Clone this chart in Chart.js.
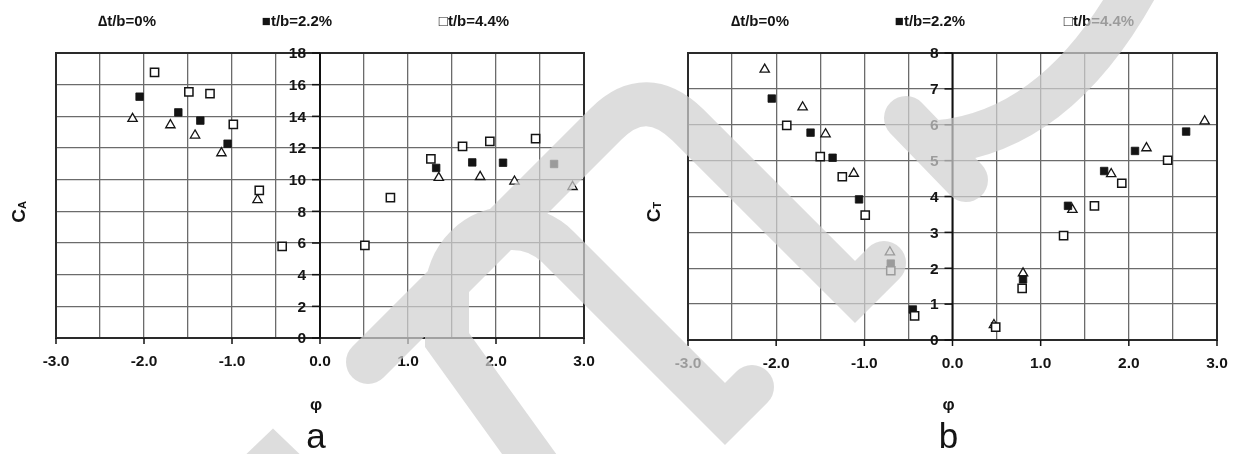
<!DOCTYPE html>
<html>
<head>
<meta charset="utf-8">
<script src="https://cdn.jsdelivr.net/npm/chart.js@4.4.1/dist/chart.umd.min.js"></script>
<style>
  html, body { margin: 0; padding: 0; background: #fff; }
  #wrap { position: relative; width: 1245px; height: 454px; overflow: hidden; background: #fff; }
  #wrap canvas { position: absolute; top: 0; }
  #ca { left: 0; }
  #cb { left: 620px; }
  #mark { left: 0; pointer-events: none; }
</style>
</head>
<body>
<div id="wrap">
  <canvas id="ca" width="620" height="454"></canvas>
  <canvas id="cb" width="625" height="454"></canvas>
  <canvas id="mark" width="1245" height="454"></canvas>
</div>
<script>
// ---- series names and legend glyphs ----
const seriesNames = ['t/b=0%', 't/b=2.2%', 't/b=4.4%'];
const legendGlyphs = ['\u2206', '\u25A0', '\u25A1'];

// ---- shared x axis ----
const xTickLabels = ['-3.0', '-2.0', '-1.0', '0.0', '1.0', '2.0', '3.0'];

// ---- panel a : C_A versus phi ----
const yTicksA = [0, 2, 4, 6, 8, 10, 12, 14, 16, 18];
const phiA_0 = [-2.13, -1.70, -1.42, -1.12, -0.71, 1.35, 1.82, 2.21, 2.87];
const cA_0   = [13.85, 13.45, 12.80, 11.68, 8.72, 10.12, 10.18, 9.89, 9.55];
const phiA_22 = [-2.05, -1.61, -1.36, -1.05, 1.32, 1.73, 2.08, 2.66];
const cA_22   = [15.24, 14.25, 13.73, 12.27, 10.74, 11.09, 11.07, 10.99];
const phiA_44 = [-1.88, -1.49, -1.25, -0.985, -0.69, -0.43, 0.51, 0.80, 1.26, 1.62, 1.93, 2.45];
const cA_44   = [16.78, 15.54, 15.43, 13.49, 9.32, 5.79, 5.85, 8.86, 11.31, 12.10, 12.42, 12.59];

// ---- panel b : C_T versus phi ----
const yTicksB = [0, 1, 2, 3, 4, 5, 6, 7, 8];
const phiB_0 = [-2.13, -1.70, -1.44, -1.12, -0.71, 0.47, 0.80, 1.36, 1.80, 2.20, 2.86];
const cT_0   = [7.54, 6.49, 5.74, 4.64, 2.45, 0.42, 1.86, 3.63, 4.63, 5.35, 6.10];
const phiB_22 = [-2.05, -1.61, -1.36, -1.06, -0.70, -0.45, 0.80, 1.31, 1.72, 2.07, 2.65];
const cT_22   = [6.73, 5.78, 5.08, 3.92, 2.13, 0.85, 1.69, 3.74, 4.71, 5.27, 5.81];
const phiB_44 = [-1.88, -1.50, -1.25, -0.99, -0.70, -0.43, 0.49, 0.79, 1.26, 1.61, 1.92, 2.44];
const cT_44   = [5.98, 5.11, 4.55, 3.48, 1.93, 0.67, 0.36, 1.44, 2.91, 3.74, 4.37, 5.01];

const INK = '#141414';
const GRID = '#6b6b6b';
const FONT = '"Liberation Sans", Arial, Helvetica, sans-serif';

function pts(xs, ys) { return xs.map((v, i) => ({ x: v, y: ys[i] })); }

function makeDatasets(x0, y0, x1, y1, x2, y2) {
  return [
    { label: seriesNames[0], data: pts(x0, y0), order: 3,
      pointStyle: 'triangle', pointRadius: 5.4, borderWidth: 1.3,
      borderColor: INK, backgroundColor: '#fff' },
    { label: seriesNames[1], data: pts(x1, y1), order: 2,
      pointStyle: 'rect', pointRadius: 5.3, borderWidth: 0.8,
      borderColor: INK, backgroundColor: INK },
    { label: seriesNames[2], data: pts(x2, y2), order: 1,
      pointStyle: 'rect', pointRadius: 5.8, borderWidth: 1.5,
      borderColor: INK, backgroundColor: '#fff' }
  ];
}

// axes, frame, labels and legend drawn on top of Chart.js grid
function panelPlugin(cfg) {
  return {
    id: 'panelDecor',
    beforeDatasetsDraw(chart) {
      const { ctx, chartArea: ca, scales: { x, y } } = chart;
      ctx.save();
      ctx.strokeStyle = '#2a2a2a';
      ctx.lineWidth = 2;
      ctx.strokeRect(ca.left, ca.top, ca.right - ca.left, ca.bottom - ca.top);

      const x0 = x.getPixelForValue(0);
      ctx.strokeStyle = '#111';
      ctx.beginPath(); ctx.moveTo(x0, ca.top); ctx.lineTo(x0, ca.bottom); ctx.stroke();

      ctx.font = 'bold 15.5px ' + FONT;
      ctx.fillStyle = INK;
      ctx.lineWidth = 1.5;
      ctx.textAlign = 'right';
      ctx.textBaseline = 'middle';
      cfg.yTicks.forEach(v => {
        const py = y.getPixelForValue(v);
        ctx.beginPath(); ctx.moveTo(x0 - 8, py); ctx.lineTo(x0, py); ctx.stroke();
        ctx.fillText(String(v), x0 - 14, py + 1);
      });

      ctx.textAlign = 'center';
      xTickLabels.forEach(t => {
        const px = x.getPixelForValue(parseFloat(t));
        ctx.beginPath(); ctx.moveTo(px, ca.bottom); ctx.lineTo(px, ca.bottom + 6); ctx.stroke();
        ctx.fillText(t, px, ca.bottom + 24);
      });
      ctx.restore();
    },
    afterDraw(chart) {
      const { ctx, scales: { x } } = chart;
      const x0 = x.getPixelForValue(0);
      ctx.save();
      ctx.fillStyle = INK;

      // legend row
      ctx.font = 'bold 15px ' + FONT;
      ctx.textBaseline = 'middle';
      ctx.textAlign = 'center';
      cfg.legendX.forEach((lx, i) => {
        ctx.fillText(legendGlyphs[i] + seriesNames[i], lx, 22);
      });

      // axis symbol below the x labels
      ctx.font = 'bold 17px ' + FONT;
      ctx.fillText('\u03C6', x0 - 4, 405);

      // panel letter
      ctx.font = '35px ' + FONT;
      ctx.textBaseline = 'alphabetic';
      ctx.fillText(cfg.letter, x0 - 4, 448);

      // rotated y title with subscript
      ctx.translate(cfg.titleX, 212);
      ctx.rotate(-Math.PI / 2);
      ctx.textAlign = 'left';
      ctx.font = 'bold 19px ' + FONT;
      const wC = ctx.measureText('C').width;
      ctx.font = 'bold 11px ' + FONT;
      const wS = ctx.measureText(cfg.sub).width;
      const start = -(wC + wS) / 2;
      ctx.font = 'bold 19px ' + FONT;
      ctx.fillText('C', start, 0);
      ctx.font = 'bold 11px ' + FONT;
      ctx.fillText(cfg.sub, start + wC, 1);
      ctx.restore();
    }
  };
}

function makeChart(id, datasets, yMax, yStep, pad, cfg) {
  return new Chart(document.getElementById(id), {
    type: 'scatter',
    data: { datasets },
    options: {
      responsive: false,
      animation: false,
      devicePixelRatio: 1,
      events: [],
      layout: { padding: pad },
      plugins: { legend: { display: false }, tooltip: { enabled: false } },
      scales: {
        x: {
          type: 'linear', min: -3, max: 3,
          ticks: { display: false, stepSize: 0.5 },
          grid: { color: GRID, lineWidth: 1.3, drawTicks: false },
          border: { display: false }
        },
        y: {
          type: 'linear', min: 0, max: yMax,
          ticks: { display: false, stepSize: yStep },
          grid: { color: GRID, lineWidth: 1.3, drawTicks: false },
          border: { display: false }
        }
      }
    },
    plugins: [panelPlugin(cfg)]
  });
}

makeChart('ca', makeDatasets(phiA_0, cA_0, phiA_22, cA_22, phiA_44, cA_44), 18, 2,
  { left: 56, right: 36, top: 53, bottom: 116 },
  { yTicks: yTicksA, legendX: [127, 297, 474], letter: 'a', sub: 'A', titleX: 25 });

makeChart('cb', makeDatasets(phiB_0, cT_0, phiB_22, cT_22, phiB_44, cT_44), 8, 1,
  { left: 68, right: 28, top: 53, bottom: 114 },
  { yTicks: yTicksB, legendX: [140, 310, 479], letter: 'b', sub: 'T', titleX: 40 });

// translucent grey brush mark laid over the whole figure
(function () {
  const g = document.getElementById('mark').getContext('2d');
  g.globalAlpha = 0.72;
  g.strokeStyle = 'rgb(208,208,208)';
  g.lineWidth = 44;
  g.lineCap = 'round';
  g.lineJoin = 'miter';
  g.beginPath();
  g.moveTo(368, 362); g.lineTo(606, 124);
  g.quadraticCurveTo(646, 84, 688, 125);
  g.lineTo(855, 292); g.lineTo(884, 263);
  g.moveTo(545, 476); g.lineTo(447, 340); g.lineTo(447, 293);
  g.arc(512, 293, 65, Math.PI, 1.75 * Math.PI);
  g.lineTo(725, 414); g.lineTo(752, 387);
  g.moveTo(225, 505); g.lineTo(273, 459); g.lineTo(321, 505);
  g.moveTo(906, 118); g.lineTo(966, 180);
  g.moveTo(940, 142); g.quadraticCurveTo(1060, 130, 1140, -20);
  g.stroke();
})();
</script>
</body>
</html>
